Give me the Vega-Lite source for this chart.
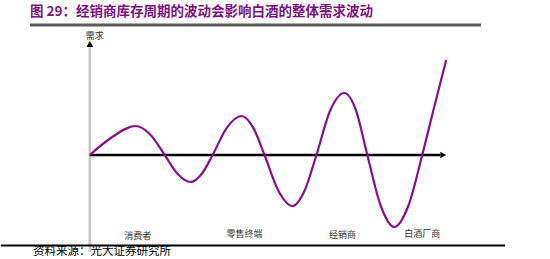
{
  "$schema": "https://vega.github.io/schema/vega-lite/v6.json",
  "width": 550,
  "height": 259,
  "autosize": {"type": "fit", "contains": "padding"},
  "padding": 0,
  "background": "white",
  "config": {"view": {"stroke": null}},
  "datasets": {
    "curve": [
      {"t": 0, "d": 0}, {"t": 21, "d": 17}, {"t": 46, "d": 29}, {"t": 60.5, "d": 20.5},
      {"t": 75, "d": 0}, {"t": 88, "d": -19}, {"t": 101, "d": -27}, {"t": 112, "d": -19},
      {"t": 123, "d": 0}, {"t": 137.5, "d": 27.6}, {"t": 152, "d": 39}, {"t": 163.5, "d": 27.6},
      {"t": 175, "d": 0}, {"t": 189, "d": -36}, {"t": 203, "d": -51}, {"t": 215, "d": -36},
      {"t": 227, "d": 0}, {"t": 241, "d": 45}, {"t": 255, "d": 62}, {"t": 266.5, "d": 45},
      {"t": 278, "d": 0}, {"t": 291.5, "d": -51}, {"t": 305, "d": -72}, {"t": 319, "d": -51},
      {"t": 333, "d": 0}, {"t": 345, "d": 48}, {"t": 357, "d": 95}
    ],
    "rules": [
      {"kind": "title", "t": -60, "t2": 392, "d": 130, "d2": 130},
      {"kind": "yaxis", "t": 0, "t2": 0, "d": 108, "d2": -97},
      {"kind": "xaxis", "t": 0, "t2": 351, "d": 0, "d2": 0},
      {"kind": "bottom", "t": -89, "t2": 416, "d": -90.5, "d2": -90.5}
    ],
    "arrows": [
      {"dir": "up", "t": 0, "d": 111},
      {"dir": "right", "t": 354, "d": 0}
    ],
    "labels": [
      {"label": "需求", "t": 5, "d": 119},
      {"label": "消费者", "t": 48, "d": -81},
      {"label": "零售终端", "t": 155, "d": -79},
      {"label": "经销商", "t": 253, "d": -80},
      {"label": "白酒厂商", "t": 333, "d": -79}
    ],
    "titles": [
      {"label": "图 29：经销商库存周期的波动会影响白酒的整体需求波动", "t": -60, "d": 143}
    ],
    "sources": [
      {"label": "资料来源：光大证券研究所", "t": -57, "d": -97}
    ]
  },
  "layer": [
    {
      "data": {"name": "rules"},
      "mark": {"type": "rule"},
      "encoding": {
        "x": {"field": "t", "type": "quantitative", "scale": {"domain": [-89, 461], "nice": false, "zero": false}, "axis": null},
        "x2": {"field": "t2"},
        "y": {"field": "d", "type": "quantitative", "scale": {"domain": [-104, 155], "nice": false, "zero": false}, "axis": null},
        "y2": {"field": "d2"},
        "color": {"field": "kind", "type": "nominal", "scale": {"domain": ["title", "yaxis", "xaxis", "bottom"], "range": ["#5a5a5a", "#c4c4c4", "#000000", "#000000"]}, "legend": null},
        "strokeWidth": {"field": "kind", "type": "nominal", "scale": {"domain": ["title", "yaxis", "xaxis", "bottom"], "range": [3, 2, 1.5, 1.2]}, "legend": null}
      }
    },
    {
      "data": {"name": "curve"},
      "mark": {"type": "line", "interpolate": "monotone", "color": "#87108a", "strokeWidth": 2.2},
      "encoding": {
        "x": {"field": "t", "type": "quantitative", "scale": {"domain": [-89, 461], "nice": false, "zero": false}, "axis": null},
        "y": {"field": "d", "type": "quantitative", "scale": {"domain": [-104, 155], "nice": false, "zero": false}, "axis": null}
      }
    },
    {
      "data": {"name": "arrows"},
      "mark": {"type": "point", "filled": true, "color": "#000000", "size": 45, "opacity": 1},
      "encoding": {
        "x": {"field": "t", "type": "quantitative", "scale": {"domain": [-89, 461], "nice": false, "zero": false}, "axis": null},
        "y": {"field": "d", "type": "quantitative", "scale": {"domain": [-104, 155], "nice": false, "zero": false}, "axis": null},
        "shape": {"field": "dir", "type": "nominal", "scale": {"domain": ["up", "right"], "range": ["triangle-up", "triangle-right"]}, "legend": null}
      }
    },
    {
      "data": {"name": "labels"},
      "mark": {"type": "text", "font": "Noto Sans CJK SC", "fontSize": 9, "color": "#333333", "align": "center", "baseline": "middle"},
      "encoding": {
        "x": {"field": "t", "type": "quantitative", "scale": {"domain": [-89, 461], "nice": false, "zero": false}, "axis": null},
        "y": {"field": "d", "type": "quantitative", "scale": {"domain": [-104, 155], "nice": false, "zero": false}, "axis": null},
        "text": {"field": "label", "type": "nominal"}
      }
    },
    {
      "data": {"name": "titles"},
      "mark": {"type": "text", "font": "Noto Sans CJK SC", "fontSize": 13.5, "fontWeight": "bold", "color": "#7b1280", "align": "left", "baseline": "middle"},
      "encoding": {
        "x": {"field": "t", "type": "quantitative", "scale": {"domain": [-89, 461], "nice": false, "zero": false}, "axis": null},
        "y": {"field": "d", "type": "quantitative", "scale": {"domain": [-104, 155], "nice": false, "zero": false}, "axis": null},
        "text": {"field": "label", "type": "nominal"}
      }
    },
    {
      "data": {"name": "sources"},
      "mark": {"type": "text", "font": "Noto Sans CJK SC", "fontSize": 11.5, "color": "#000000", "align": "left", "baseline": "middle"},
      "encoding": {
        "x": {"field": "t", "type": "quantitative", "scale": {"domain": [-89, 461], "nice": false, "zero": false}, "axis": null},
        "y": {"field": "d", "type": "quantitative", "scale": {"domain": [-104, 155], "nice": false, "zero": false}, "axis": null},
        "text": {"field": "label", "type": "nominal"}
      }
    }
  ]
}
